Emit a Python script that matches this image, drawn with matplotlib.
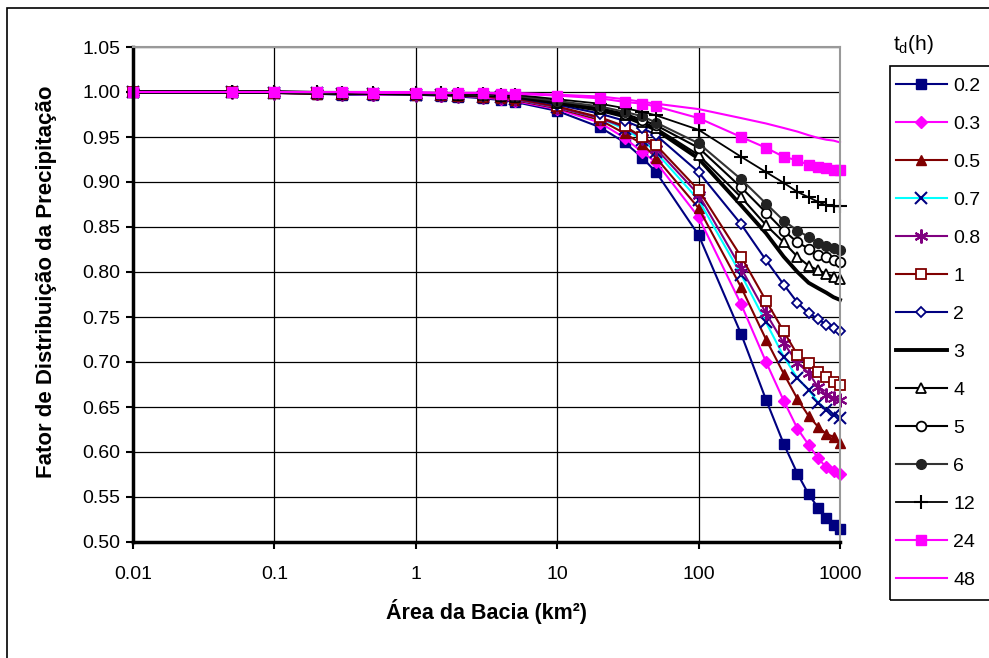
import matplotlib
matplotlib.use("Agg")
import matplotlib.pyplot as plt
from matplotlib.patches import Rectangle
from matplotlib.markers import MarkerStyle

plt.rcParams['font.family'] = ['Liberation Sans', 'DejaVu Sans']

area = [0.01, 0.05, 0.1, 0.2, 0.3, 0.5, 1, 1.5, 2, 3, 4, 5, 10, 20, 30, 40, 50,
        100, 200, 300, 400, 500, 600, 700, 800, 900, 1000]

labels = ['0.2', '0.3', '0.5', '0.7', '0.8', '1', '2', '3', '4', '5', '6', '12', '24', '48']

f_02 = [1.000, 1.000, 0.999, 0.998, 0.997, 0.997, 0.997, 0.996, 0.995, 0.993, 0.991, 0.989, 0.979, 0.961, 0.944, 0.927, 0.911, 0.841, 0.731, 0.658, 0.609, 0.576, 0.553, 0.538, 0.527, 0.519, 0.514]
f_03 = [1.000, 1.000, 0.999, 0.998, 0.998, 0.997, 0.997, 0.996, 0.996, 0.994, 0.992, 0.990, 0.981, 0.966, 0.949, 0.933, 0.922, 0.861, 0.764, 0.700, 0.657, 0.626, 0.608, 0.593, 0.583, 0.579, 0.576]
f_05 = [1.000, 1.000, 0.999, 0.998, 0.998, 0.998, 0.997, 0.997, 0.996, 0.995, 0.993, 0.991, 0.982, 0.969, 0.954, 0.942, 0.927, 0.871, 0.783, 0.725, 0.687, 0.659, 0.640, 0.628, 0.620, 0.617, 0.610]
f_07 = [1.000, 1.000, 0.999, 0.999, 0.998, 0.998, 0.997, 0.997, 0.996, 0.995, 0.994, 0.992, 0.983, 0.971, 0.959, 0.947, 0.933, 0.880, 0.797, 0.744, 0.706, 0.682, 0.669, 0.655, 0.647, 0.641, 0.638]
f_08 = [1.000, 1.000, 0.999, 0.999, 0.998, 0.998, 0.997, 0.997, 0.996, 0.995, 0.994, 0.992, 0.983, 0.971, 0.961, 0.949, 0.937, 0.886, 0.804, 0.754, 0.721, 0.699, 0.688, 0.672, 0.663, 0.660, 0.658]
f_1 = [1.000, 1.000, 0.999, 0.999, 0.998, 0.998, 0.998, 0.997, 0.996, 0.995, 0.994, 0.993, 0.984, 0.972, 0.962, 0.950, 0.941, 0.891, 0.817, 0.768, 0.734, 0.708, 0.699, 0.689, 0.683, 0.678, 0.674]
f_2 = [1.000, 1.000, 0.999, 0.999, 0.999, 0.998, 0.998, 0.997, 0.997, 0.996, 0.995, 0.994, 0.986, 0.976, 0.968, 0.960, 0.952, 0.911, 0.853, 0.813, 0.786, 0.766, 0.754, 0.748, 0.741, 0.738, 0.735]
f_3 = [1.000, 1.000, 1.000, 0.999, 0.999, 0.999, 0.998, 0.998, 0.997, 0.997, 0.996, 0.995, 0.988, 0.980, 0.973, 0.965, 0.958, 0.926, 0.874, 0.843, 0.817, 0.800, 0.788, 0.782, 0.777, 0.772, 0.769]
f_4 = [1.000, 1.000, 1.000, 0.999, 0.999, 0.999, 0.998, 0.998, 0.997, 0.997, 0.996, 0.995, 0.988, 0.981, 0.974, 0.967, 0.960, 0.930, 0.883, 0.852, 0.833, 0.817, 0.807, 0.802, 0.798, 0.795, 0.792]
f_5 = [1.000, 1.000, 1.000, 0.999, 0.999, 0.999, 0.999, 0.998, 0.998, 0.997, 0.996, 0.996, 0.989, 0.982, 0.976, 0.969, 0.963, 0.938, 0.894, 0.866, 0.846, 0.833, 0.826, 0.819, 0.817, 0.813, 0.811]
f_6 = [1.000, 1.000, 1.000, 0.999, 0.999, 0.999, 0.999, 0.998, 0.998, 0.997, 0.997, 0.996, 0.990, 0.984, 0.978, 0.973, 0.966, 0.943, 0.903, 0.876, 0.857, 0.846, 0.839, 0.832, 0.829, 0.827, 0.824]
f_12 = [1.000, 1.000, 1.000, 1.000, 0.999, 0.999, 0.999, 0.999, 0.998, 0.998, 0.997, 0.997, 0.992, 0.987, 0.982, 0.978, 0.974, 0.958, 0.928, 0.911, 0.899, 0.889, 0.883, 0.878, 0.874, 0.873, 0.873]
f_24 = [1.000, 1.000, 1.000, 1.000, 1.000, 0.999, 0.999, 0.999, 0.999, 0.999, 0.998, 0.998, 0.996, 0.993, 0.989, 0.987, 0.984, 0.971, 0.950, 0.938, 0.928, 0.924, 0.919, 0.917, 0.916, 0.913, 0.913]
f_48 = [1.000, 1.000, 1.000, 1.000, 1.000, 1.000, 1.000, 0.999, 0.999, 0.999, 0.999, 0.999, 0.997, 0.995, 0.992, 0.989, 0.987, 0.981, 0.971, 0.965, 0.960, 0.956, 0.952, 0.949, 0.947, 0.946, 0.944]

series = [f_02, f_03, f_05, f_07, f_08, f_1, f_2, f_3, f_4, f_5, f_6, f_12, f_24, f_48]

navy = '#000080'
mag = '#FF00FF'
dred = '#800000'
purple = '#800080'
cyan = '#00FFFF'
asterisk = MarkerStyle((6, 2, 0))

styles = [
    dict(color=navy, lw=1.5, marker='s', ms=7, mfc=navy, mec=navy),
    dict(color=mag, lw=1.5, marker='D', ms=6, mfc=mag, mec=mag),
    dict(color=dred, lw=1.5, marker='^', ms=7, mfc=dred, mec=dred),
    dict(color=cyan, lw=1.5, marker='x', ms=9, mfc=navy, mec=navy, mew=1.5),
    dict(color=purple, lw=1.5, marker=asterisk, ms=10, mfc=purple, mec=purple, mew=1.5),
    dict(color=dred, lw=1.5, marker='s', ms=7, mfc='white', mec=dred, mew=1.3),
    dict(color=navy, lw=1.5, marker='D', ms=5, mfc='white', mec=navy, mew=1.3),
    dict(color='black', lw=2.8, marker=None),
    dict(color='black', lw=1.5, marker='^', ms=7, mfc='white', mec='black', mew=1.3),
    dict(color='black', lw=1.5, marker='o', ms=7, mfc='white', mec='black', mew=1.3),
    dict(color='#333333', lw=1.5, marker='o', ms=7, mfc='#222222', mec='#222222'),
    dict(color='black', lw=1.3, marker='+', ms=10, mfc='black', mec='black', mew=1.5),
    dict(color=mag, lw=1.5, marker='s', ms=7, mfc=mag, mec=mag),
    dict(color=mag, lw=1.5, marker=None),
]

W, H = 989, 658
fig = plt.figure(figsize=(W / 100, H / 100), dpi=100)

# outer chart border
fig.patches.append(Rectangle((7 / W, -0.1), 2.0, 1 - 8 / H + 0.1, transform=fig.transFigure,
                             fill=False, edgecolor='black', lw=1.2, zorder=0))

ax = fig.add_axes([133 / W, 1 - 542 / H, (840 - 133) / W, (542 - 47) / H])
ax.set_xscale('log')
ax.set_xlim(0.01, 1000)
ax.set_ylim(0.50, 1.05)

handles = []
for vals, st, lab in zip(series, styles, labels):
    ln, = ax.plot(area, vals, label=lab, clip_on=False, **st)
    handles.append(ln)

ax.set_yticks([0.50 + 0.05 * i for i in range(12)])
ax.set_yticklabels([f'{0.50 + 0.05 * i:.2f}' for i in range(12)])
ax.set_xticks([0.01, 0.1, 1, 10, 100, 1000])
ax.set_xticklabels(['0.01', '0.1', '1', '10', '100', '1000'])
ax.minorticks_off()
ax.tick_params(axis='both', labelsize=14, direction='out', length=5, width=1.5, color='black')
ax.tick_params(axis='x', pad=12)
ax.tick_params(axis='y', pad=4)

ax.grid(True, which='major', color='black', lw=0.9)
ax.set_axisbelow(True)
for s in ['top', 'right']:
    ax.spines[s].set_color('#999999')
    ax.spines[s].set_linewidth(1.5)
for s in ['left', 'bottom']:
    ax.spines[s].set_color('black')
    ax.spines[s].set_linewidth(2.5)

ax.set_ylabel('Fator de Distribuição da Precipitação', fontsize=16, fontweight='bold')
ax.yaxis.set_label_coords(-0.107, 0.525)
ax.set_xlabel('Área da Bacia (km²)', fontsize=15.5, fontweight='bold', labelpad=12)

# legend frame and title
fig.patches.append(Rectangle((890 / W, 1 - 600 / H), 0.5, (600 - 66) / H, transform=fig.transFigure,
                             fill=False, edgecolor='black', lw=1.2, zorder=1))
fig.text(913 / W, 1 - 45 / H, r'$\mathregular{t_d}$(h)', fontsize=15, ha='center', va='center')

leg = fig.legend(handles=handles, labels=labels, loc='upper left',
                 bbox_to_anchor=(896 / W, 1 - 77 / H), frameon=False, fontsize=14,
                 handlelength=2.6, handletextpad=0.35, labelspacing=1.05, borderaxespad=0,
                 borderpad=0)

fig.savefig('out.png', dpi=100)
